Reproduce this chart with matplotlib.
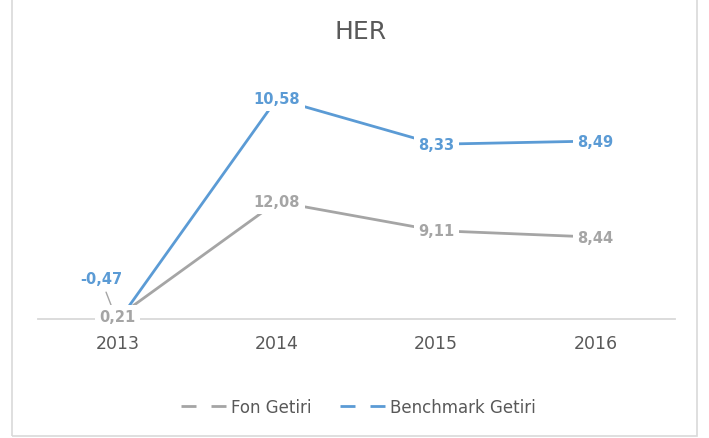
import matplotlib
matplotlib.use("Agg")
import matplotlib.pyplot as plt
from matplotlib.patches import Rectangle
from matplotlib.lines import Line2D

plt.rcParams['font.family'] = ['DejaVu Sans']

years = ['2013', '2014', '2015', '2016']
fon = [0.21, 12.08, 9.11, 8.44]
bench = [-0.47, 10.58, 8.33, 8.49]
series_names = ['Fon Getiri', 'Benchmark Getiri']
title = 'HER'

GRAY = '#A5A5A5'
BLUE = '#5B9BD5'
TXT = '#595959'

W, H = 709, 439
fig = plt.figure(figsize=(W / 100, H / 100), dpi=100)

# chart border
fig.patches.append(Rectangle((12 / W, 2 / H), 685 / W, 1.2, transform=fig.transFigure,
                             fill=False, edgecolor='#D9D9D9', lw=1.2))

ax = fig.add_axes([38 / W, (H - 320) / H, 637 / W, 260 / H])
ax2 = ax.twinx()
x = list(range(len(years)))
ax.set_xlim(-0.5, len(years) - 0.5)
ax.set_ylim(0, 26.8)
ax2.set_ylim(-0.32, 12.55)

for a in (ax, ax2):
    for s in a.spines.values():
        s.set_visible(False)
    a.set_yticks([])
ax.spines['bottom'].set_visible(True)
ax.spines['bottom'].set_color('#D9D9D9')
ax.spines['bottom'].set_linewidth(1.3)
ax.set_xticks(x)
ax.set_xticklabels(years, fontsize=12.5, color=TXT)
ax.tick_params(axis='x', length=0, pad=11)
ax2.patch.set_visible(False)

ax.plot(x, fon, color=GRAY, lw=2.0, clip_on=False, zorder=2, solid_capstyle='round')
ax2.plot(x, bench, color=BLUE, lw=2.0, clip_on=False, zorder=2, solid_capstyle='round')

def fmt(v):
    return f"{v:.2f}".replace('.', ',')

box = dict(boxstyle='square,pad=0.3', facecolor='white', edgecolor='none')

# benchmark labels (first one moved with a leader line)
for i, v in enumerate(bench):
    if i == 0:
        ax2.annotate(fmt(v), xy=(x[i], v), xytext=(-12, 31), textcoords='offset points',
                     ha='center', va='center', fontsize=10.5, fontweight='bold', color=BLUE,
                     bbox=box, zorder=5, annotation_clip=False,
                     arrowprops=dict(arrowstyle='-', color=GRAY, lw=1, shrinkA=1, shrinkB=0))
    else:
        ax2.text(x[i], v, fmt(v), ha='center', va='center', fontsize=10.5,
                 fontweight='bold', color=BLUE, bbox=box, zorder=6)

for i, v in enumerate(fon):
    ax2.text(x[i], v, fmt(v), transform=ax.transData, ha='center', va='center',
             fontsize=10.5, fontweight='bold', color=GRAY, bbox=box, zorder=7, clip_on=False)

fig.text(361 / W, 1 - 32 / H, title, fontsize=18, color=TXT, ha='center', va='center')

handles = [Line2D([], [], color=GRAY, lw=2.0, dashes=(5.4, 5.4)),
           Line2D([], [], color=BLUE, lw=2.0, dashes=(5.4, 5.4))]
leg = fig.legend(handles, series_names, loc='center', bbox_to_anchor=(358 / W, 1 - 408 / H),
                 ncol=2, frameon=False, fontsize=12, handlelength=2.9, handletextpad=0.1,
                 columnspacing=1.7)
for t in leg.get_texts():
    t.set_color(TXT)

fig.savefig('out.png', dpi=100)
